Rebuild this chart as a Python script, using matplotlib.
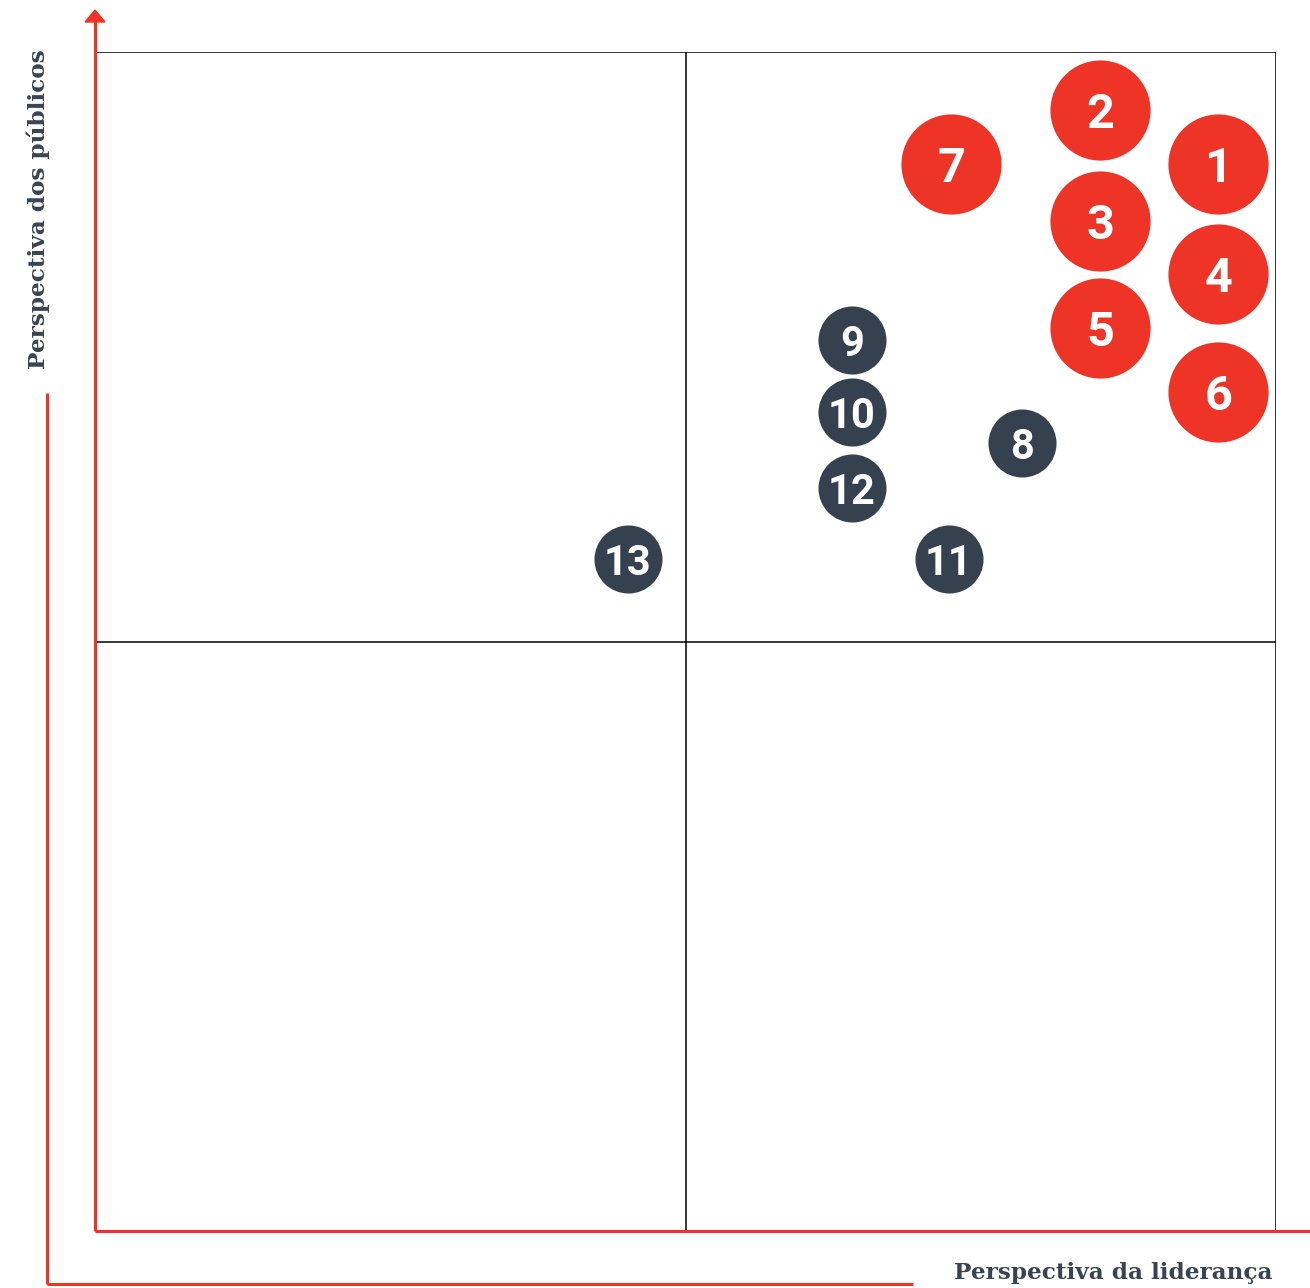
#!/usr/bin/env python3
"""
Matriz de materialidade: perspectiva da liderança x perspectiva dos públicos.
"""

import matplotlib
matplotlib.use("Agg")
import matplotlib.pyplot as plt
from matplotlib.lines import Line2D
from matplotlib.patches import Polygon

# ---------------------------------------------------------------------------
# Dados (escala 0-100 nos dois eixos)
# ---------------------------------------------------------------------------
rotulos = ["1", "2", "3", "4", "5", "6", "7", "8", "9", "10", "11", "12", "13"]
lideranca = [95.1, 85.1, 85.1, 95.1, 85.1, 95.1, 72.5, 78.5, 64.1, 64.1, 72.3, 64.1, 45.1]
publicos = [90.5, 95.1, 85.7, 81.2, 76.6, 71.2, 90.5, 66.8, 75.6, 69.5, 57.0, 63.0, 57.0]
prioritario = [True] * 7 + [False] * 6

VERMELHO = "#EE3427"
ESCURO = "#36414F"
TEXTO = "#3A4350"

W, H = 1310, 1288
fig = plt.figure(figsize=(W / 100, H / 100), dpi=100)
fig.patch.set_facecolor("white")


def fx(px):
    return px / W


def fy(py):
    return 1 - py / H


# eixo de dados = quadrado dos quadrantes
ax = fig.add_axes([fx(95), fy(1231), (1276 - 95) / W, (1231 - 52) / H])
ax.set_xlim(0, 100)
ax.set_ylim(0, 100)
ax.set_axis_off()

# linhas dos quadrantes
for x in (50, 100):
    ax.plot([x, x], [0, 100], color="black", lw=1.1, zorder=1)
for y in (50, 100):
    ax.plot([0, 100], [y, y], color="black", lw=1.1, zorder=1)

# bolhas
for lab, x, y, p in zip(rotulos, lideranca, publicos, prioritario):
    if p:
        ax.scatter(x, y, s=5200, color=VERMELHO, zorder=3, linewidths=0)
        ax.text(x, y, lab, color="white", fontsize=35, fontweight="bold",
                family="Roboto", ha="center", va="center_baseline", zorder=4)
    else:
        ax.scatter(x, y, s=2400, color=ESCURO, zorder=3, linewidths=0)
        ax.text(x, y, lab, color="white", fontsize=30, fontweight="bold",
                family="Roboto", ha="center", va="center_baseline", zorder=4)

# eixos vermelhos (coordenadas da figura)
linhas = [
    ([95, 95], [1231, 18]),
    ([95, 1310], [1231, 1231]),
    ([47, 47], [393, 1284]),
    ([47, 913], [1284, 1284]),
]
for xs, ys in linhas:
    fig.add_artist(Line2D([fx(v) for v in xs], [fy(v) for v in ys],
                          color=VERMELHO, lw=2.2, solid_capstyle="butt"))

# ponta de seta no eixo vertical
fig.add_artist(Polygon([(fx(85), fy(22)), (fx(105), fy(22)), (fx(95), fy(10))],
                       closed=True, color=VERMELHO, transform=fig.transFigure))

# títulos dos eixos
fig.text(fx(38), fy(209), "Perspectiva dos públicos", rotation=90,
         ha="center", va="center", fontsize=16.7, fontweight="bold",
         family="DejaVu Serif", color=TEXTO)
fig.text(fx(1272), fy(1273), "Perspectiva da liderança",
         ha="right", va="center", fontsize=16.7, fontweight="bold",
         family="DejaVu Serif", color=TEXTO)

fig.savefig("out.png", dpi=100, facecolor="white")
